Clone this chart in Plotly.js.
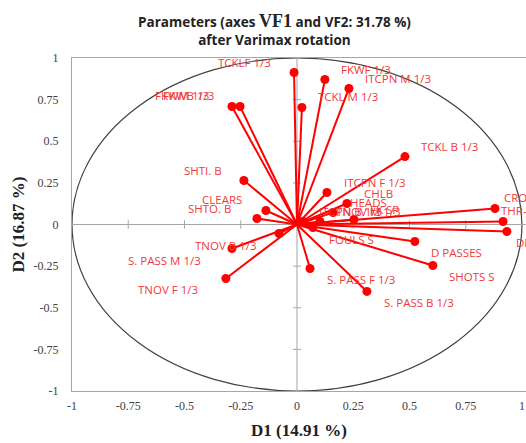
<!DOCTYPE html>
<html>
<head>
<meta charset="utf-8">
<script src="https://cdn.plot.ly/plotly-3.0.1.min.js"></script>
<style>html,body{margin:0;padding:0;background:#fff;}#chart{width:526px;height:443px;}</style>
</head>
<body>
<div id="chart"></div>
<script>
// Variables (factor loadings on D1 / D2 after Varimax rotation)
const names = ["TCKLF 1/3","FKWF 1/3","ITCPN M 1/3","TCKL M 1/3","FKWM 1/3","FKWB 1/3",
  "SHTI. B","CLEARS","SHTO. B","TNOV B 1/3","S. PASS M 1/3","TNOV F 1/3",
  "S. PASS F 1/3","S. PASS B 1/3","D PASSES","SHOTS S","FOULS S","ITCPN F 1/3",
  "CHLB","HEADS","ITCPN B 1/3","TNOV M 1/3","FK SP","TCKL B 1/3","CROSSES","THR-INS","DFK"];
const d1 = [-0.013,0.124,0.231,0.022,-0.289,-0.253,
  -0.236,-0.138,-0.178,-0.289,-0.080,-0.316,
  0.058,0.311,0.524,0.604,0.071,0.133,
  0.222,0.160,0.027,0.102,0.253,0.480,0.880,0.916,0.933];
const d2 = [0.913,0.871,0.817,0.703,0.709,0.709,
  0.264,0.084,0.036,-0.144,-0.054,-0.324,
  -0.264,-0.402,-0.102,-0.246,-0.018,0.192,
  0.126,0.072,0.018,0.018,0.030,0.408,0.096,0.018,-0.042];
// label placement (pixel offsets from the point, anchor side)
const labAnchor = ["right","left","left","left","right","right",
  "right","right","right","left","right","right",
  "left","left","left","left","left","left",
  "left","left","left","left","left","left","left","left","left"];
const labDx = [-21,14,14,14,-21,-24, -20,-22,-23,-39,-76,-26, 15,15,14,14,14,15, 15,15,14,14,14,14,7,-4,7];
const labDy = [10,10,10,11,11,11, 10,11,10,3,-27,-11, -11,-11,-11,-11,-12,10, 10,10,10,10,10,10,11,11,-11];

const tickVals = [-1,-0.75,-0.5,-0.25,0,0.25,0.5,0.75,1];
const tickText = ["-1","-0.75","-0.5","-0.25","0","0.25","0.5","0.75","1"];

const RED = "#ff0000";
const LABRED = "#ef3a3a";
const GREY = "#a6a6a6";

const traces = [];
// rays from origin
const lx = [], ly = [];
for (let i = 0; i < names.length; i++) { lx.push(0, d1[i], null); ly.push(0, d2[i], null); }
traces.push({x: lx, y: ly, mode: "lines", line: {color: RED, width: 2}, hoverinfo: "skip", showlegend: false, cliponaxis: false});
traces.push({x: d1, y: d2, text: names, mode: "markers", marker: {color: RED, size: 9}, showlegend: false, cliponaxis: false});

const shapes = [
  {type: "circle", xref: "x", yref: "y", x0: -1, x1: 1, y0: -1, y1: 1, line: {color: "#404040", width: 1.2}, layer: "below"},
  {type: "line", xref: "x", yref: "y", x0: -1, x1: 1.02, y0: 0, y1: 0, line: {color: GREY, width: 1}, layer: "below"},
  {type: "line", xref: "x", yref: "y", x0: 0, x1: 0, y0: -1, y1: 1, line: {color: GREY, width: 1}, layer: "below"}
];
tickVals.forEach(v => {
  if (v === 0 || Math.abs(v) === 1) return;
  shapes.push({type: "line", xref: "x", yref: "y", x0: v, x1: v, y0: -0.025, y1: 0.025, line: {color: GREY, width: 1}, layer: "below"});
  shapes.push({type: "line", xref: "x", yref: "y", x0: -0.018, x1: 0.018, y0: v, y1: v, line: {color: GREY, width: 1}, layer: "below"});
});

const annotations = names.map((n, i) => ({
  x: d1[i], y: d2[i], xref: "x", yref: "y", text: n, showarrow: false,
  xanchor: labAnchor[i], yanchor: "middle", xshift: labDx[i], yshift: labDy[i],
  font: {family: "Open Sans, Noto Sans, sans-serif", size: 11.5, color: LABRED}
}));
// chart title
annotations.push({
  xref: "paper", yref: "paper", x: 0.445, y: 1.085, xanchor: "center", yanchor: "middle",
  showarrow: false, align: "center",
  text: "<b>Parameters (axes <span style='font-family:Liberation Serif;font-size:18px'>VF1</span> and VF2: 31.78 %)</b><br><b>after Varimax rotation</b>",
  font: {family: "Open Sans, sans-serif", size: 13.5, color: "#222"}
});

const layout = {
  width: 526, height: 443,
  margin: {l: 72, r: 0, t: 58, b: 52, pad: 0},
  paper_bgcolor: "#fff", plot_bgcolor: "#fff",
  xaxis: {
    range: [-1, 1.018], showgrid: false, zeroline: false,
    showline: true, mirror: true, linecolor: GREY, linewidth: 1,
    tickmode: "array", tickvals: tickVals, ticktext: tickText, ticks: "",
    ticklabelstandoff: 4,
    tickfont: {family: "Liberation Serif, serif", size: 12, color: "#404040"},
    title: {text: "<b>D1 (14.91 %)</b>", font: {family: "Liberation Serif, serif", size: 17, color: "#222"}, standoff: 11}
  },
  yaxis: {
    range: [-1, 1], showgrid: false, zeroline: false,
    showline: true, mirror: true, linecolor: GREY, linewidth: 1,
    tickmode: "array", tickvals: tickVals, ticktext: tickText, ticks: "",
    ticklabelstandoff: 10,
    tickfont: {family: "Liberation Serif, serif", size: 12, color: "#404040"},
    title: {text: "<b>D2 (16.87 %)</b>", font: {family: "Liberation Serif, serif", size: 17, color: "#222"}, standoff: 4}
  },
  shapes: shapes,
  annotations: annotations,
  showlegend: false
};

Plotly.newPlot("chart", traces, layout, {displayModeBar: false, staticPlot: true});
</script>
</body>
</html>
